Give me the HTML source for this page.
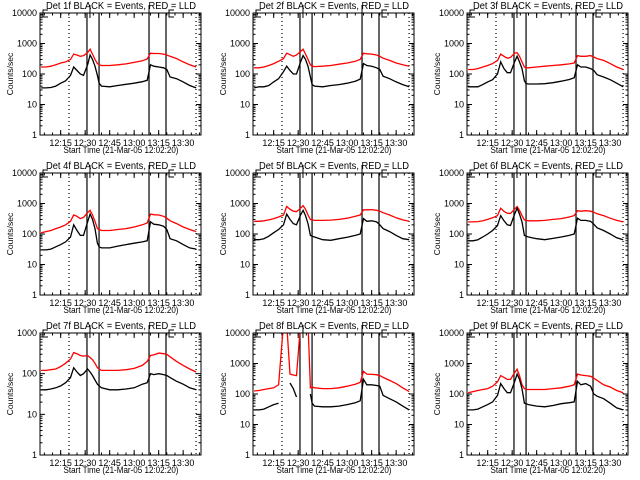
<!DOCTYPE html>
<html><head><meta charset="utf-8"><style>
html,body{margin:0;padding:0;background:#fff;}
svg{display:block;}
text{font-family:"Liberation Sans",sans-serif;fill:#000;}
</style></head>
<body>
<svg id="chart" width="640" height="480" viewBox="0 0 640 480" xmlns="http://www.w3.org/2000/svg"></svg>
<script>
// Shared time samples (minutes after 12:00)
const times = [3,6,9,12,15,18,21,23,25,27,29,31.5,33,34.5,36,37.5,38.5,40,45,50,55,60,65,68,70,72,75,78,80,82,86,90,94,98];
const tickMinutes = [15,30,45,60,75,90];
const tickLabels = ["12:15","12:30","12:45","13:00","13:15","13:30"];
const detNames = ["1f","2f","3f","4f","5f","6f","7f","8f","9f"];
const yTop = [10000,10000,10000,10000,10000,10000,1000,10000,10000];
const dottedMarks = [20.1, 97.9];
const solidMarks = [31.1, 38.5, 69.1, 79.5];

const black1 = [35,35,36,40,50,60,90,170,130,100,90,200,420,300,180,90,50,40,38,42,46,50,56,62,200,180,170,160,140,80,70,55,42,35];
const red1 = [170,170,180,200,230,250,300,450,420,380,400,500,650,450,300,220,200,190,190,200,215,240,270,310,480,470,470,450,420,380,320,250,200,170];
const black2 = [35,38,38,42,55,70,120,180,130,100,100,250,400,300,180,80,45,40,38,42,45,50,58,68,220,190,180,160,140,85,70,55,45,38];
const red2 = [160,160,170,190,220,260,320,480,430,380,420,550,650,450,300,200,180,175,180,190,210,230,260,300,480,460,450,420,380,330,280,230,200,180];
const black3 = [38,38,38,45,55,65,100,250,150,110,110,250,380,250,150,60,48,47,47,48,52,58,66,75,200,170,170,150,130,95,80,65,50,38];
const red3 = [140,140,150,170,190,220,280,450,380,330,350,480,500,380,250,170,160,160,170,180,190,200,215,230,400,380,380,400,360,320,280,220,170,140];
const black4 = [30,30,32,38,45,55,80,200,130,90,90,250,450,300,150,50,38,35,35,40,45,50,55,60,250,210,200,180,140,70,60,45,35,32];
const red4 = [110,120,130,150,170,200,260,420,380,320,350,500,600,420,260,150,140,130,130,140,150,170,200,230,450,430,420,380,330,270,220,170,140,120];
const black5 = [65,65,70,85,110,140,200,450,300,220,200,420,600,400,220,90,85,80,65,62,70,78,90,100,320,260,270,250,200,150,120,90,70,65];
const red5 = [260,260,270,290,320,360,420,800,650,560,540,700,850,650,420,300,290,280,280,285,300,330,380,420,620,620,630,600,560,500,420,340,290,260];
const black6 = [60,60,65,80,100,130,190,400,270,200,190,450,700,450,250,90,85,80,70,65,72,80,90,100,330,280,280,260,210,160,130,100,75,65];
const red6 = [250,250,255,270,300,340,400,700,550,480,470,650,800,600,400,290,280,270,270,280,300,320,360,400,580,560,580,560,520,460,400,330,280,250];
const black7 = [40,40,42,45,50,60,80,140,110,90,100,130,110,90,70,55,50,45,40,40,42,45,55,60,100,95,100,95,90,80,65,55,45,40];
const red7 = [120,120,125,130,150,180,230,330,310,280,270,280,250,220,180,140,130,120,120,120,125,135,160,200,280,290,320,310,300,260,200,160,130,110];
const black8 = [30,30,32,38,45,50,null,null,230,150,80,null,null,null,null,100,50,40,38,38,40,45,52,60,300,200,200,190,180,90,70,55,40,30];
const red8 = [125,130,140,150,160,200,20000,20000,450,420,400,20000,20000,20000,20000,160,170,160,150,150,160,180,210,240,550,450,440,430,400,350,280,220,160,120];
const black9 = [30,30,32,38,45,55,90,220,150,110,110,250,450,300,150,50,48,45,40,38,42,48,52,55,260,200,220,180,100,85,70,50,35,30];
const red9 = [110,120,130,140,150,180,250,400,350,300,300,500,650,400,200,150,140,140,140,140,150,160,180,200,450,420,400,380,330,280,200,170,130,110];

const blacks = [black1,black2,black3,black4,black5,black6,black7,black8,black9];
const reds = [red1,red2,red3,red4,red5,red6,red7,red8,red9];

const NS = "http://www.w3.org/2000/svg";
const svg = document.getElementById("chart");
function mk(tag, attrs, parent){
  const e = document.createElementNS(NS, tag);
  for (const k in attrs) e.setAttribute(k, attrs[k]);
  parent.appendChild(e);
  return e;
}
const X0 = 40, X1 = 201, Y0 = 13, Y1 = 135;
const T0 = 2.333, T1 = 100.93;

for (let p = 0; p < 9; p++) {
  const ox = [0,213,427][p % 3], oy = [0,160,320][Math.floor(p / 3)];
  const g = mk("g", {transform: "translate(" + ox + "," + oy + ")"}, svg);
  
  
  const topDec = Math.log10(yTop[p]);
  const xs = t => X0 + (t - T0) / (T1 - T0) * (X1 - X0);
  const ys = v => Y1 - Math.log10(v) / topDec * (Y1 - Y0);

  const clip = mk("clipPath", {id: "clip" + p}, g);
  mk("rect", {x: X0, y: Y0, width: X1 - X0, height: Y1 - Y0}, clip);

  dottedMarks.forEach(t => {
    const l = mk("line", {x1: xs(t), x2: xs(t), y1: Y0, y2: Y1, stroke: "#000", "stroke-width": 1.2, "stroke-dasharray": "1,3"}, g);
    
    
  });
  solidMarks.forEach((t, i) => {
    const l = mk("line", {x1: xs(t), x2: xs(t), y1: Y0, y2: Y1, stroke: "#000", "stroke-width": 1.2}, g);
    
    
  });
  [xs(solidMarks[0]) + 3, xs(solidMarks[2])].forEach(x => {
    mk("line", {x1: x, x2: x, y1: 5, y2: 18, stroke: "#000", "stroke-width": 1}, g);
  });
  [43, xs(solidMarks[3]) + 3].forEach(x => {
    mk("path", {d: "M" + (x + 5) + " 10 L" + x + " 10 L" + x + " 17 L" + (x + 5) + " 17", fill: "none", stroke: "#000", "stroke-width": 1}, g);
  });

  const drawSeries = (arr, color, name) => {
    let d = "", pen = false;
    for (let i = 0; i < times.length; i++) {
      if (arr[i] == null) { pen = false; continue; }
      d += (pen ? "L" : "M") + xs(times[i]).toFixed(1) + " " + ys(arr[i]).toFixed(1) + " ";
      pen = true;
    }
    const path = mk("path", {d: d, fill: "none", stroke: color, "stroke-width": 1.3, "clip-path": "url(#clip" + p + ")"}, g);
    
    
  };
  drawSeries(reds[p], "#ff0000", "lld-series");
  drawSeries(blacks[p], "#000000", "events-series");

  const box = mk("rect", {x: X0, y: Y0, width: X1 - X0, height: Y1 - Y0, fill: "none", stroke: "#000", "stroke-width": 1}, g);
  
  

  for (let dcd = 0; dcd <= topDec; dcd++) {
    const v = Math.pow(10, dcd), y = ys(v);
    mk("line", {x1: X0, x2: X0 + 5, y1: y, y2: y, stroke: "#000"}, g);
    mk("line", {x1: X1, x2: X1 - 5, y1: y, y2: y, stroke: "#000"}, g);
    const t = mk("text", {x: X0 - 3, y: y + 3, "font-size": 9, "text-anchor": "end"}, g);
    t.textContent = String(v);
    
    
    if (dcd < topDec) for (let m = 2; m <= 9; m++) {
      const ym = ys(m * v);
      mk("line", {x1: X0, x2: X0 + 2.5, y1: ym, y2: ym, stroke: "#000"}, g);
      mk("line", {x1: X1, x2: X1 - 2.5, y1: ym, y2: ym, stroke: "#000"}, g);
    }
  }
  tickMinutes.forEach((tm, i) => {
    const x = xs(tm);
    mk("line", {x1: x, x2: x, y1: Y1, y2: Y1 - 5, stroke: "#000"}, g);
    mk("line", {x1: x, x2: x, y1: Y0, y2: Y0 + 5, stroke: "#000"}, g);
    const t = mk("text", {x: x, y: Y1 + 11, "font-size": 9, "text-anchor": "middle"}, g);
    t.textContent = tickLabels[i];
    
    
  });
  for (let tm = 5; tm < T1; tm += 5) {
    if (tm < T0) continue;
    const x = xs(tm);
    mk("line", {x1: x, x2: x, y1: Y1, y2: Y1 - 2.5, stroke: "#000"}, g);
    mk("line", {x1: x, x2: x, y1: Y0, y2: Y0 + 2.5, stroke: "#000"}, g);
  }

  const title = mk("text", {x: 121, y: 9, "font-size": 10, "text-anchor": "middle", textLength: 150, lengthAdjust: "spacingAndGlyphs"}, g);
  title.textContent = "Det " + detNames[p] + " BLACK = Events, RED = LLD";
  
  

  const xt = mk("text", {x: 121, y: 153, "font-size": 9.5, "text-anchor": "middle", textLength: 115, lengthAdjust: "spacingAndGlyphs"}, g);
  xt.textContent = "Start Time (21-Mar-05 12:02:20)";
  
  

  const yt = mk("text", {x: 0, y: 0, "font-size": 8.5, "text-anchor": "middle", transform: "translate(13,74) rotate(-90)"}, g);
  yt.textContent = "Counts/sec";
  
  
}
</script>
</body></html>
